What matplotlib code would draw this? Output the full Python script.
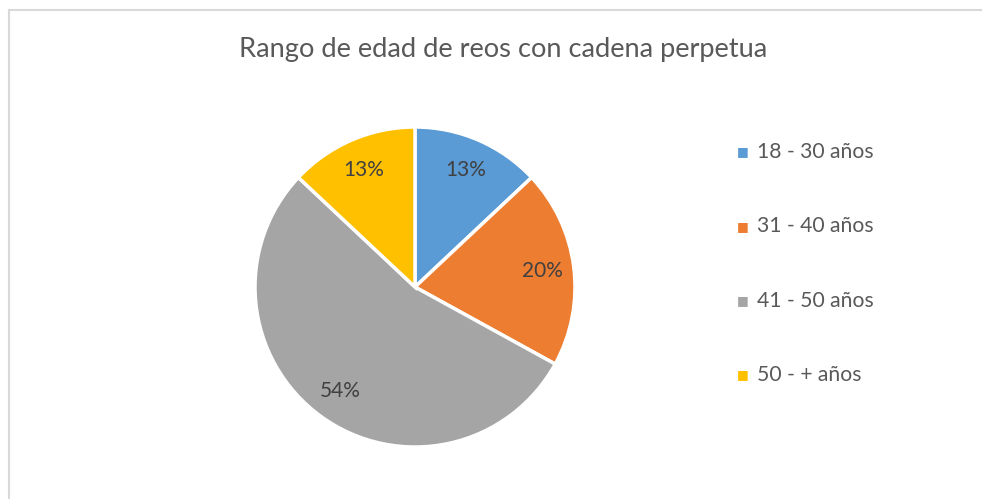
import matplotlib
matplotlib.use('Agg')
from matplotlib import pyplot as plt
from matplotlib.lines import Line2D

# chart data
categories = ['18 - 30 años', '31 - 40 años', '41 - 50 años', '50 - + años']
shares = [13, 20, 54, 13]
colors = ['#5B9BD5', '#ED7D31', '#A5A5A5', '#FFC000']
title = 'Rango de edad de reos con cadena perpetua'

plt.rcParams['font.family'] = ['Lato', 'DejaVu Sans']

W, H = 982, 499
fig = plt.figure(figsize=(W / 100, H / 100), dpi=100)

# light frame on left and top, as in the screenshot
fig.add_artist(Line2D([8.5 / W, 8.5 / W], [0, 1 - 9.5 / H], transform=fig.transFigure,
                      color='#d9d9d9', lw=1.5))
fig.add_artist(Line2D([8.5 / W, 1], [1 - 9.5 / H, 1 - 9.5 / H], transform=fig.transFigure,
                      color='#d9d9d9', lw=1.5))

# pie axes placed by pixel centre and radius
cx, cy, r = 415, 287, 160
ax = fig.add_axes([(cx - r) / W, (H - cy - r) / H, 2 * r / W, 2 * r / H])
wedges, texts, autotexts = ax.pie(
    shares, colors=colors, startangle=90, counterclock=False,
    autopct='%1.0f%%', pctdistance=0.8,
    wedgeprops={'edgecolor': 'white', 'linewidth': 2.5},
    textprops={'color': '#404040', 'fontsize': 15})
ax.set_xlim(-1, 1)
ax.set_ylim(-1, 1)
ax.set_aspect('auto')
ax.axis('off')

fig.text(503 / W, 1 - 50 / H, title, ha='center', va='center',
         fontsize=19.6, color='#595959')

# legend entries
for i, (name, col) in enumerate(zip(categories, colors)):
    y = 1 - (152 + i * 74.3) / H
    fig.text(743 / W, y, '\u25A0', ha='center', va='center', fontsize=9, color=col,
             family='DejaVu Sans')
    fig.text(757 / W, y, name, ha='left', va='center', fontsize=15.2, color='#595959')

fig.savefig('out.png', dpi=100)
